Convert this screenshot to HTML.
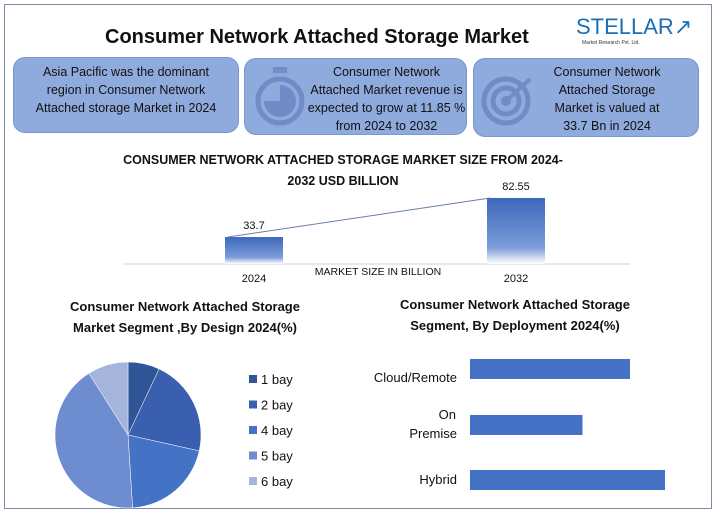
<!DOCTYPE html>
<html><head><meta charset="utf-8"><style>
body{margin:0;width:716px;height:513px;background:#fff;font-family:"Liberation Sans",sans-serif;position:relative;overflow:hidden}
.frame{position:absolute;left:4px;top:4px;width:706px;height:503px;border:1.5px solid #7d8aa0}
.box{position:absolute;background:#8faadc;border:1px solid #7c97cf;border-radius:12px;font-size:12.5px;line-height:18px;text-align:center;color:#111}
.t{position:absolute;font-weight:bold;color:#111}
</style></head><body>
<div class="frame"></div>
<div class="t" style="left:105px;top:26px;font-size:20px">Consumer Network Attached Storage Market</div>
<div style="position:absolute;left:576px;top:14px;width:100px;height:44px">
<div style="font-size:22px;color:#1a6fb5;font-family:'Liberation Sans Narrow','Liberation Sans',sans-serif;letter-spacing:0px">STELLAR<span style="color:#1a6fb5">↗</span></div>
<div style="font-size:5px;color:#333;margin-left:6px">Market Research Pvt. Ltd.</div></div>
<div class="box" style="left:13px;top:57px;width:224px;height:74px"><div style="padding-top:5px">Asia Pacific was the dominant<br>region in Consumer Network<br>Attached storage Market in 2024</div></div>
<div class="box" style="left:244px;top:58px;width:221px;height:75px">
<svg style="position:absolute;left:8px;top:6px" width="56" height="62"><rect x="20" y="2" width="14" height="6" fill="#6f8cc6"/><circle cx="27" cy="36" r="22" fill="none" stroke="#6f8cc6" stroke-width="5"/><path d="M27 36 V20 A16 16 0 1 1 11 36 Z" fill="#6f8cc6"/></svg>
<div style="padding-top:4px;padding-left:62px">Consumer Network<br>Attached Market revenue is<br>expected to grow at 11.85 %<br>from 2024 to 2032</div></div>
<div class="box" style="left:473px;top:58px;width:224px;height:77px">
<svg style="position:absolute;left:4px;top:10px" width="60" height="60"><g fill="none" stroke="#6f8cc6" stroke-width="5"><circle cx="28" cy="32" r="22"/><circle cx="28" cy="32" r="13"/></g><circle cx="28" cy="32" r="5" fill="#6f8cc6"/><line x1="28" y1="32" x2="52" y2="10" stroke="#6f8cc6" stroke-width="4"/></svg>
<div style="padding-top:4px;padding-left:62px;padding-right:20px">Consumer Network<br>Attached Storage<br>Market is valued at<br>33.7 Bn in 2024</div></div>

<div class="t" style="left:103px;top:150px;font-size:12.5px;width:480px;text-align:center;line-height:21px">CONSUMER NETWORK ATTACHED STORAGE MARKET SIZE FROM 2024-<br>2032 USD BILLION</div>
<svg id="topchart" style="position:absolute;left:0;top:0" width="716" height="300">
<defs><linearGradient id="g" x1="0" y1="0" x2="0" y2="1"><stop offset="0" stop-color="#3d68bb"/><stop offset="0.75" stop-color="#7b9cd8"/><stop offset="1" stop-color="#ffffff"/></linearGradient></defs>
<line x1="123" y1="264" x2="630" y2="264" stroke="#d0d0d0"/>
<text x="378" y="275" font-size="10.5" text-anchor="middle" fill="#111">MARKET SIZE IN BILLION</text>
</svg>

<div class="t" style="left:40px;top:296px;font-size:13px;width:290px;text-align:center;line-height:21px">Consumer Network Attached Storage<br>Market Segment ,By Design 2024(%)</div>
<div class="t" style="left:370px;top:294px;font-size:13px;width:290px;text-align:center;line-height:21px">Consumer Network Attached Storage<br>Segment, By Deployment 2024(%)</div>
<svg id="botchart" style="position:absolute;left:0;top:0" width="716" height="513"></svg>
<script>
const years=["2024","2032"];
const sizes=[33.7,82.55];
const designs=["1 bay","2 bay","4 bay","5 bay","6 bay"];
const designShare=[7,21.5,20.5,42,9];
const deployments=["Cloud/Remote","On Premise","Hybrid"];
const deployShare=[32,22.5,39];
const NS="http://www.w3.org/2000/svg";
function mk(p,t,a){const e=document.createElementNS(NS,t);for(const k in a)e.setAttribute(k,a[k]);p.appendChild(e);return e;}
const topSvg=document.getElementById('topchart');
const yS=v=>264-v*0.8;const xC=i=>254+i*262;
const pts=[];
years.forEach((y,i)=>{
 const r=mk(topSvg,'rect',{x:xC(i)-29,y:yS(sizes[i]),width:58,height:264-yS(sizes[i]),fill:'url(#g)'});
 
 
 const v=mk(topSvg,'text',{x:xC(i),y:yS(sizes[i])-8,'font-size':11,'text-anchor':'middle',fill:'#111'});v.textContent=sizes[i];
 
 
 const l=mk(topSvg,'text',{x:xC(i),y:282,'font-size':11,'text-anchor':'middle',fill:'#111'});l.textContent=y;
 
 
 pts.push((xC(i)-26)+','+yS(sizes[i]));
});
const tl=mk(topSvg,'polyline',{points:pts.join(' '),fill:'none',stroke:'#6a7fa8','stroke-width':1});


const botSvg=document.getElementById('botchart');
const cols=["#2f5597","#3a5fae","#4472c4","#6e8cd0","#a4b4dc"];
const cx=128,cy=435,R=73;const tot=designShare.reduce((a,b)=>a+b,0);let a0=0;
designs.forEach((d,i)=>{
 const a1=a0+designShare[i]/tot*Math.PI*2;
 const p=(a)=>[cx+R*Math.sin(a),cy-R*Math.cos(a)];
 const [x0,y0]=p(a0),[x1,y1]=p(a1);
 const s=mk(botSvg,'path',{d:`M${cx} ${cy}L${x0} ${y0}A${R} ${R} 0 ${a1-a0>Math.PI?1:0} 1 ${x1} ${y1}Z`,fill:cols[i],stroke:'#fff','stroke-width':0.5});
 
 
 a0=a1;
 const ly=380+i*25.5;
 const sq=mk(botSvg,'rect',{x:249,y:ly-5,width:8,height:8,fill:cols[i]});
 
 
 const t=mk(botSvg,'text',{x:261,y:ly+4,'font-size':13,fill:'#111'});t.textContent=d;
 
 
});
const xB=v=>470+v*5;const yB=[369,425,480];
const labelOff=[[13],[-6,13],[4]];
deployments.forEach((d,i)=>{
 const b=mk(botSvg,'rect',{x:470,y:yB[i]-10,width:xB(deployShare[i])-470,height:20,fill:'#4472c4'});
 
 
 const parts=d==="On Premise"?["On","Premise"]:[d];
 parts.forEach((p,j)=>{
  const t=mk(botSvg,'text',{x:parts.length>1&&j==0?456:457,y:yB[i]+labelOff[i][j],'font-size':13,'text-anchor':'end',fill:'#111'});
  t.textContent=p;
  
  
 });
});
</script>
</body></html>
